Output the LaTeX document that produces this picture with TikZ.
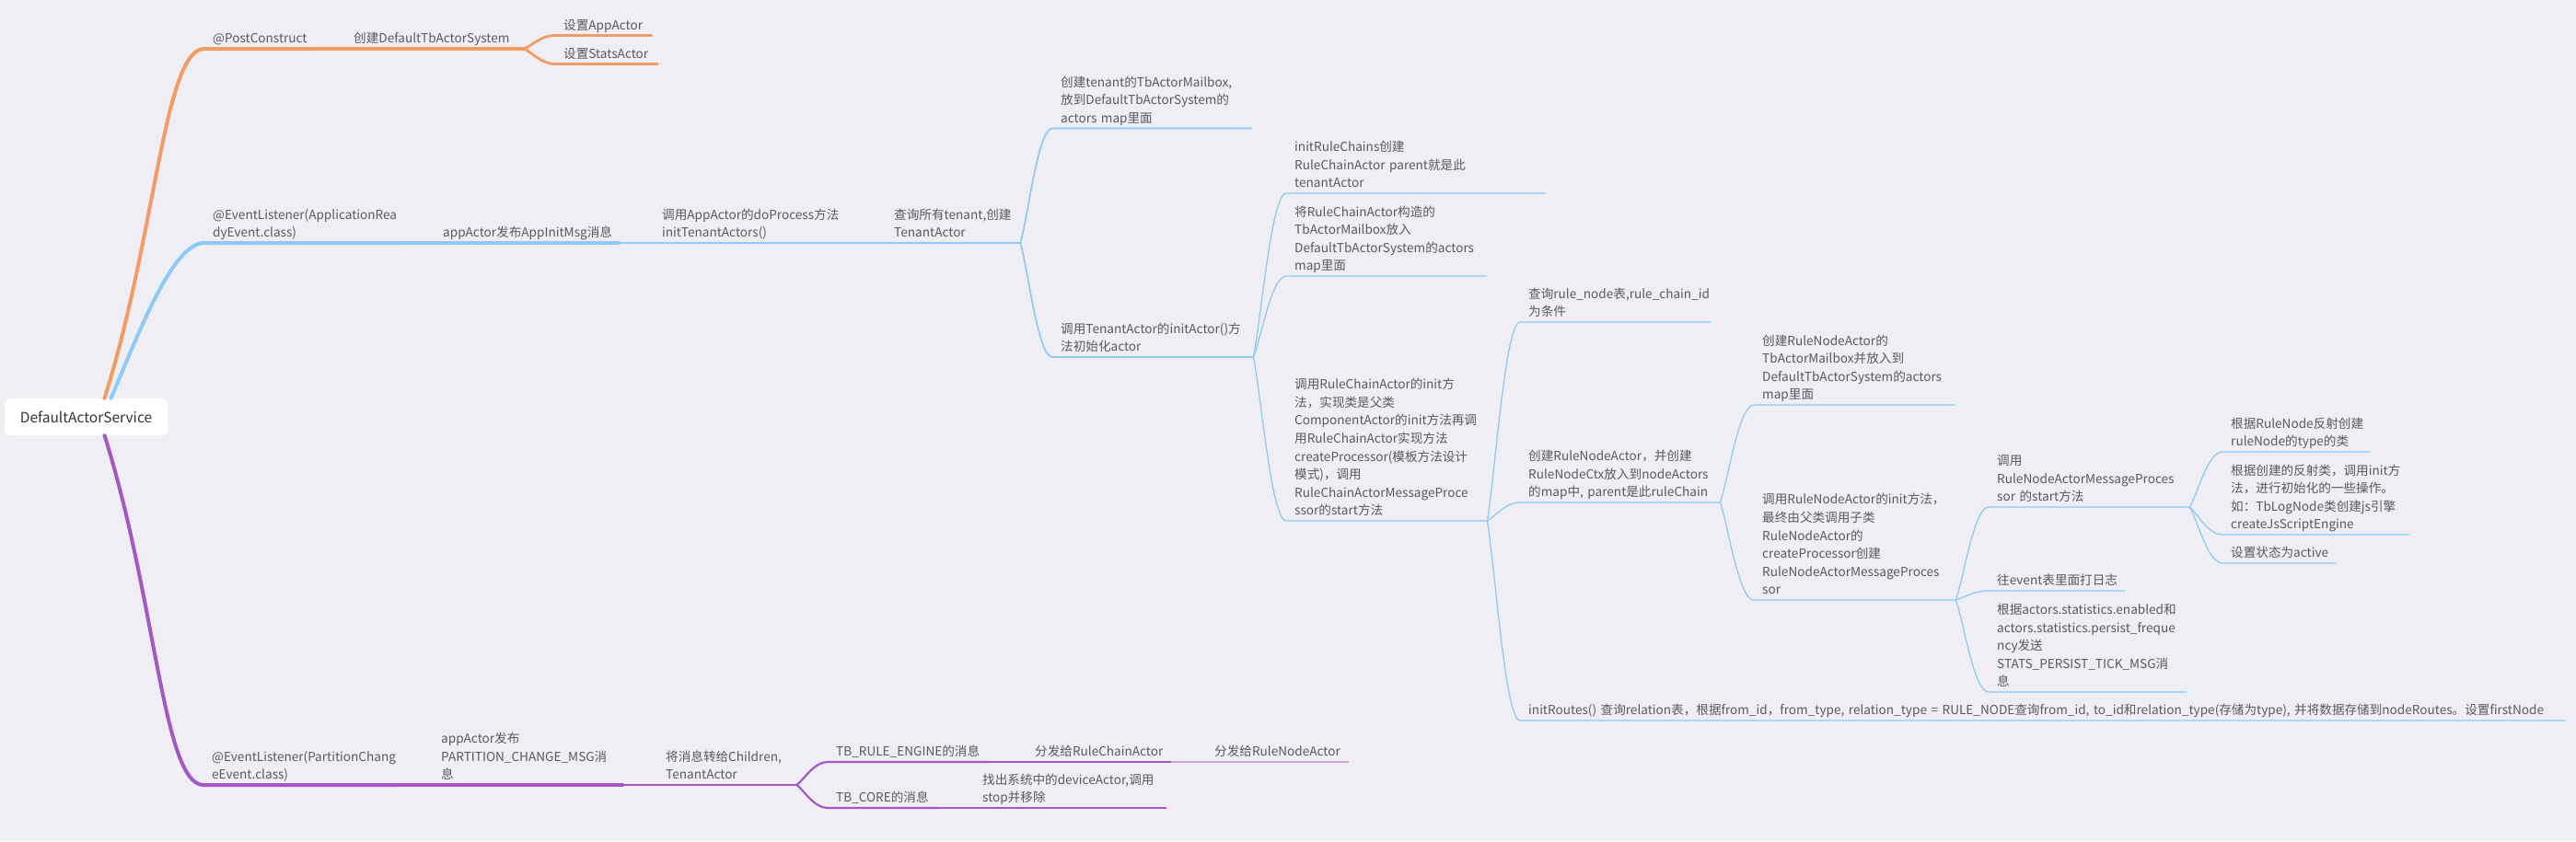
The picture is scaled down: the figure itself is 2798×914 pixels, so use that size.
\documentclass[tikz,border=0pt]{standalone}
\usepackage{fontspec}
\setmainfont{Noto Sans CJK SC}
\usetikzlibrary{calc}

\definecolor{bgcol}{HTML}{EFEEF4}
\definecolor{orangeln}{HTML}{F29B63}
\definecolor{blueln}{HTML}{8DCAF7}
\definecolor{purpleln}{HTML}{A458C4}
\definecolor{purplelt}{HTML}{CDA9DF}
\definecolor{txtcol}{HTML}{5A5A5A}
\newcommand{\topicfont}{\fontsize{13.6}{19.6}\selectfont}
\newcommand{\rootfont}{\fontsize{15.5}{18}\selectfont}

\tikzset{
  topic/.style={anchor=south west, align=left, inner xsep=9pt, inner ysep=0pt,
    font=\topicfont, text=txtcol, execute at end node=\strut},
  rootbox/.style={fill=white, rounded corners=6pt, minimum width=177pt,
    minimum height=40pt, font=\rootfont, text=black!80},
  branch/.style={to path={.. controls ($(\tikztostart)!0.25!(\tikztotarget)$)
    and ($(\tikztotarget)!0.45!(\tikztostart |- \tikztotarget)$) .. (\tikztotarget)}},
  lv1/.style={line width=4pt},
  lv2/.style={line width=3.4pt},
  lv3/.style={line width=2.8pt},
  lv4/.style={line width=2.2pt},
  lv5/.style={line width=1.7pt},
  lv6/.style={line width=1.3pt}
}

\begin{document}
\begin{tikzpicture}[x=1pt, y=-1pt]
    \useasboundingbox (0,0) rectangle (2798,914);
    \fill[bgcol] (0,0) rectangle (2798,914);

    \node[rootbox] (root) at (93.5,453) {DefaultActorService};

    % @PostConstruct
    \node[topic, text width=97pt]  (pc)    at (222,53)   {@PostConstruct};
    \node[topic, text width=176pt] (cds)   at (375,53)   {创建DefaultTbActorSystem};
    \node[topic, text width=86pt]  (app)   at (603,38.5) {设置AppActor};
    \node[topic, text width=93pt]  (stats) at (603,69.5) {设置StatsActor};

    % ApplicationReadyEvent
    \node[topic, text width=196pt] (ev)      at (222,264)  {@EventListener(ApplicationRea\\dyEvent.class)};
    \node[topic, text width=182pt] (pub)     at (472,264)  {appActor发布AppInitMsg消息};
    \node[topic, text width=195pt] (doproc)  at (710,264)  {调用AppActor的doProcess方法\\initTenantActors()};
    \node[topic, text width=128pt] (qten)    at (962,264)  {查询所有tenant,创建\\TenantActor};
    \node[topic, text width=198pt] (mbox)    at (1143,139.5) {创建tenant的TbActorMailbox,\\放到DefaultTbActorSystem的\\actors~map里面};
    \node[topic, text width=200pt] (initact) at (1143,388) {调用TenantActor的initActor()方\\法初始化actor};
    \node[topic, text width=263pt] (irc)     at (1397,210) {initRuleChains创建\\RuleChainActor~parent就是此\\tenantActor};
    \node[topic, text width=199pt] (rcmb)    at (1397,300) {将RuleChainActor构造的\\TbActorMailbox放入\\DefaultTbActorSystem的actors\\map里面};
    \node[topic, text width=200pt] (rcinit)  at (1397,566) {调用RuleChainActor的init方\\法，实现类是父类\\ComponentActor的init方法再调\\用RuleChainActor实现方法\\createProcessor(模板方法设计\\模式)，调用\\RuleChainActorMessageProce\\ssor的start方法};
    \node[topic, text width=189pt] (qrn)     at (1651,350) {查询rule\_node表,rule\_chain\_id\\为条件};
    \node[topic, text width=199pt] (crna)    at (1651,546) {创建RuleNodeActor，并创建\\RuleNodeCtx放入到nodeActors\\的map中,~parent是此ruleChain};
    \node[topic, text width=1117pt] (routes) at (1651,783) {initRoutes()~查询relation表，根据from\_id，from\_type,~relation\_type~=~RULE\_NODE查询from\_id,~to\_id和relation\_type(存储为type),~并将数据存储到nodeRoutes。设置firstNode};
    \node[topic, text width=199pt] (rnmb)    at (1905,440) {创建RuleNodeActor的\\TbActorMailbox并放入到\\DefaultTbActorSystem的actors\\map里面};
    \node[topic, text width=201pt] (rninit)  at (1905,652) {调用RuleNodeActor的init方法，\\最终由父类调用子类\\RuleNodeActor的\\createProcessor创建\\RuleNodeActorMessageProces\\sor};
    \node[topic, text width=200pt] (rnstart) at (2160,551) {调用\\RuleNodeActorMessageProces\\sor~的start方法};
    \node[topic, text width=129pt] (evlog)   at (2160,642) {往event表里面打日志};
    \node[topic, text width=196pt] (persist) at (2160,752) {根据actors.statistics.enabled和\\actors.statistics.persist\_freque\\ncy发送\\STATS\_PERSIST\_TICK\_MSG消\\息};
    \node[topic, text width=142pt] (refl)    at (2414,491) {根据RuleNode反射创建\\ruleNode的type的类};
    \node[topic, text width=184pt] (initm)   at (2414,581) {根据创建的反射类，调用init方\\法，进行初始化的一些操作。\\如：TbLogNode类创建js引擎\\createJsScriptEngine};
    \node[topic, text width=104pt] (active)  at (2414,612) {设置状态为active};

    % PartitionChangeEvent
    \node[topic, text width=194pt] (pcev)    at (221,853) {@EventListener(PartitionChang\\eEvent.class)};
    \node[topic, text width=188pt] (ppcm)    at (470,853) {appActor发布\\PARTITION\_CHANGE\_MSG消\\息};
    \node[topic, text width=133pt] (fwd)     at (714,853) {将消息转给Children,\\TenantActor};
    \node[topic, text width=159pt] (trule)   at (899,828) {TB\_RULE\_ENGINE的消息};
    \node[topic, text width=139pt] (tochain) at (1115,828) {分发给RuleChainActor};
    \node[topic, text width=136pt] (tonode)  at (1310,828) {分发给RuleNodeActor};
    \node[topic, text width=103pt] (tcore)   at (899,878) {TB\_CORE的消息};
    \node[topic, text width=190pt] (devstop) at (1058,878) {找出系统中的deviceActor,调用\\stop并移除};

    \begin{scope}[color=orangeln, line cap=round]
        \draw[lv1] ([xshift=20pt]root.north) .. controls +(56,-177) and +(-44,0) .. (pc.south west) -- (pc.south east);
        \foreach \a/\b/\w in {pc/cds/lv2, cds/app/lv3, cds/stats/lv3}
            \draw[\w] (\a.south east) to[branch] (\b.south west) -- (\b.south east);
    \end{scope}

    \begin{scope}[color=blueln, line cap=round]
        \draw[lv1] ([xshift=27pt]root.north) .. controls +(30,-70) and +(-35,0) .. (ev.south west) -- (ev.south east);
        \foreach \a/\b/\w in {ev/pub/lv2, pub/doproc/lv3, doproc/qten/lv4,
            qten/mbox/lv5, qten/initact/lv5, initact/irc/lv6, initact/rcmb/lv6,
            initact/rcinit/lv6, rcinit/qrn/lv6, rcinit/crna/lv6, rcinit/routes/lv6,
            crna/rnmb/lv6, crna/rninit/lv6, rninit/rnstart/lv6, rninit/evlog/lv6,
            rninit/persist/lv6, rnstart/refl/lv6, rnstart/initm/lv6, rnstart/active/lv6}
            \draw[\w] (\a.south east) to[branch] (\b.south west) -- (\b.south east);
    \end{scope}

    \begin{scope}[color=purpleln, line cap=round]
        \draw[lv1] ([xshift=20pt]root.south) .. controls +(56,177) and +(-44,0) .. (pcev.south west) -- (pcev.south east);
        \foreach \a/\b/\w in {pcev/ppcm/lv2, ppcm/fwd/lv3, fwd/trule/lv4, fwd/tcore/lv4,
            trule/tochain/lv5, tcore/devstop/lv5}
            \draw[\w] (\a.south east) to[branch] (\b.south west) -- (\b.south east);
        \draw[lv6, purplelt] (tochain.south east) to[branch] (tonode.south west) -- (tonode.south east);
    \end{scope}
\end{tikzpicture}
\end{document}
